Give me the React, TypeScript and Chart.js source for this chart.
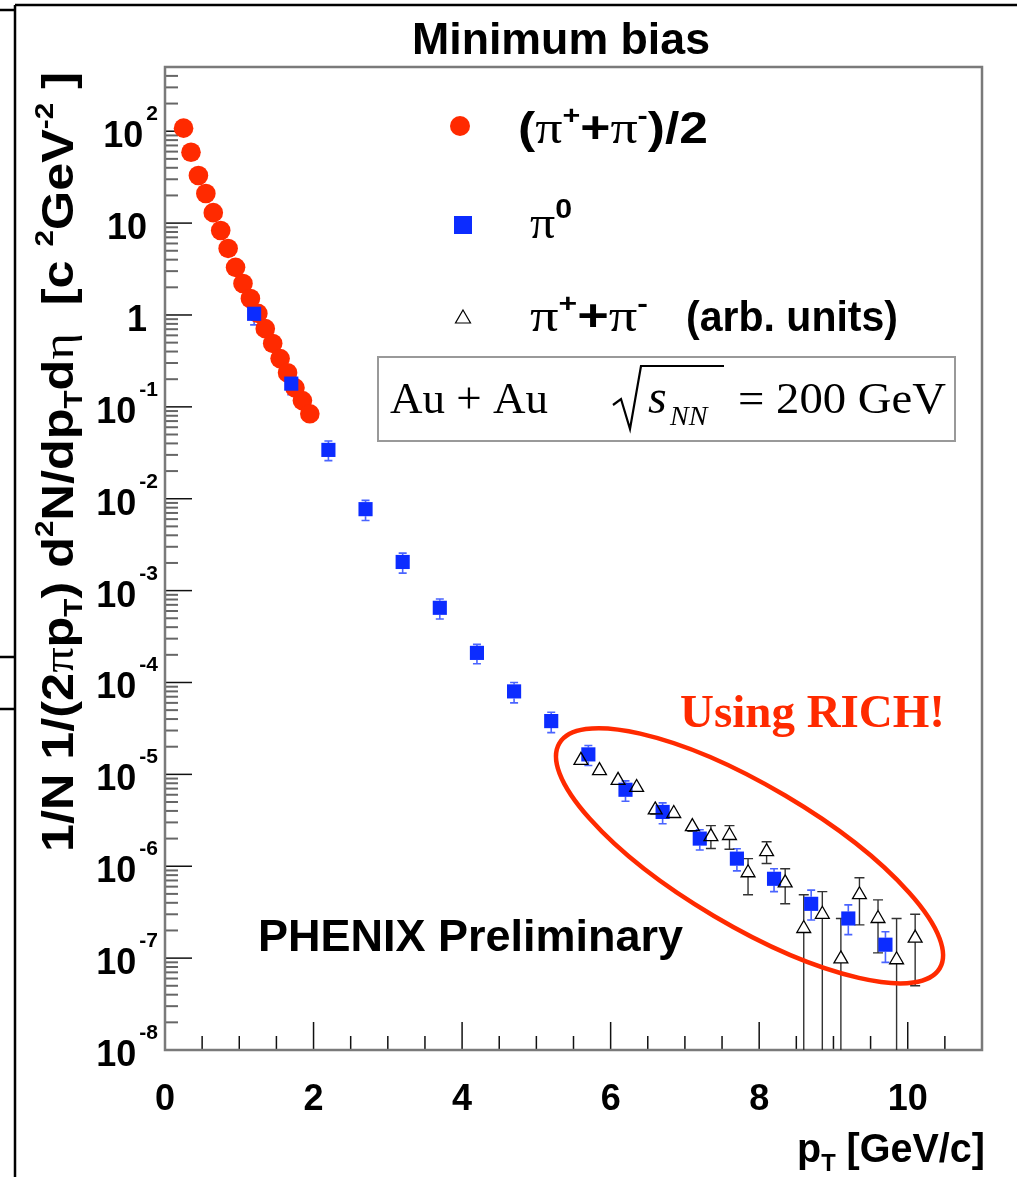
import React, { useEffect, useRef } from 'react';
import { Chart, registerables } from 'chart.js';

Chart.register(...registerables);

const WIDTH = 1017;
const HEIGHT = 1177;

// ---- data: (pi+ + pi-)/2, red circles
const chargedPt = [0.25, 0.35, 0.45, 0.55, 0.65, 0.75, 0.85, 0.95, 1.05, 1.15, 1.25, 1.35, 1.45, 1.55, 1.65, 1.75, 1.85, 1.95];
const chargedYield = [108, 59, 33, 21, 13, 8.3, 5.3, 3.3, 2.2, 1.51, 1.04, 0.71, 0.49, 0.335, 0.235, 0.161, 0.117, 0.084];

// ---- data: pi0, blue squares
const pi0Pt = [1.2, 1.7, 2.2, 2.7, 3.2, 3.7, 4.2, 4.7, 5.2, 5.7, 6.2, 6.7, 7.2, 7.7, 8.2, 8.7, 9.2, 9.7];
const pi0Yield = [1.03, 0.179, 0.034, 0.0077, 0.00205, 6.5e-4, 2.1e-4, 8.0e-5, 3.8e-5, 1.65e-5, 6.8e-6, 3.9e-6, 2.0e-6, 1.21e-6, 7.3e-7, 3.9e-7, 2.7e-7, 1.4e-7];
const pi0Low = [0.78, 0.136, 0.026, 0.0058, 0.00155, 4.9e-4, 1.6e-4, 6.0e-5, 2.85e-5, 1.25e-5, 5.1e-6, 2.9e-6, 1.5e-6, 8.9e-7, 5.3e-7, 2.6e-7, 1.8e-7, 9.0e-8];
const pi0High = [1.29, 0.224, 0.0425, 0.0096, 0.00256, 8.1e-4, 2.6e-4, 1.0e-4, 4.75e-5, 2.06e-5, 8.5e-6, 4.9e-6, 2.5e-6, 1.55e-6, 9.4e-7, 5.5e-7, 3.8e-7, 1.94e-7];

// ---- data: pi+ + pi- (arb. units) using RICH, open triangles
const richPt = [5.6, 5.85, 6.1, 6.35, 6.6, 6.85, 7.1, 7.35, 7.6, 7.85, 8.1, 8.35, 8.6, 8.85, 9.1, 9.35, 9.6, 9.85, 10.1];
const richYield = [1.42e-5, 1.10e-5, 8.6e-6, 7.2e-6, 4.1e-6, 3.75e-6, 2.7e-6, 2.1e-6, 2.16e-6, 8.5e-7, 1.44e-6, 6.6e-7, 2.1e-7, 3.0e-7, 9.8e-8, 4.9e-7, 2.7e-7, 9.6e-8, 1.65e-7];
const richLow = [1.30e-5, 1.0e-5, 7.9e-6, 6.6e-6, 3.7e-6, 3.4e-6, 2.4e-6, 1.56e-6, 1.53e-6, 4.9e-7, 1.07e-6, 3.9e-7, 1e-10, 1e-10, 1e-10, 2.3e-7, 1.14e-7, 1e-10, 5.0e-8];
const richHigh = [1.55e-5, 1.2e-5, 9.4e-6, 7.9e-6, 4.5e-6, 4.1e-6, 3.0e-6, 2.77e-6, 2.77e-6, 1.21e-6, 1.85e-6, 9.4e-7, 4.9e-7, 5.3e-7, 2.7e-7, 7.5e-7, 4.3e-7, 2.7e-7, 3.0e-7];

// ---- axes
const xTickValues = [0, 2, 4, 6, 8, 10];
const xTickLabels = ['0', '2', '4', '6', '8', '10'];
const xMinorStep = 0.5;
const yTickExponents = [-8, -7, -6, -5, -4, -3, -2, -1, 0, 1, 2];
const yTickBase = ['10', '10', '10', '10', '10', '10', '10', '10', '1', '10', '10'];
const yTickSup = ['-8', '-7', '-6', '-5', '-4', '-3', '-2', '-1', '', '', '2'];
const yMinorMantissas = [2, 3, 4, 5, 6, 7, 8, 9];
const X_MIN = 0, X_MAX = 11, Y_MIN = 1e-8, Y_MAX = 500;

// ellipse annotation centre (data coordinates)
const ellipseCenter = { x: 7.87, y: 1.3e-6 };

const RED = '#ff2a00';
const BLUE = '#0c2cff';
const SANS = '"Liberation Sans", Arial, Helvetica, sans-serif';
const SERIF = '"Liberation Serif", "Times New Roman", serif';

type Seg = { t: string; size: number; bold?: boolean; serif?: boolean; italic?: boolean; dy?: number };

function segFont(s: Seg) {
  return `${s.italic ? 'italic ' : ''}${s.bold ? 'bold ' : ''}${s.size}px ${s.serif ? SERIF : SANS}`;
}

function drawRich(ctx: CanvasRenderingContext2D, segs: Seg[], x: number, y: number, align: 'left' | 'right' | 'center', targetW: number | null, color: string) {
  let w = 0;
  const ws = segs.map((s) => {
    ctx.font = segFont(s);
    const m = ctx.measureText(s.t).width;
    w += m;
    return m;
  });
  const sx = targetW ? targetW / w : 1;
  const total = w * sx;
  const x0 = align === 'left' ? x : align === 'right' ? x - total : x - total / 2;
  ctx.save();
  ctx.translate(x0, y);
  ctx.scale(sx, 1);
  ctx.fillStyle = color;
  ctx.textAlign = 'left';
  ctx.textBaseline = 'alphabetic';
  let cx = 0;
  segs.forEach((s, i) => {
    ctx.font = segFont(s);
    ctx.fillText(s.t, cx, s.dy || 0);
    cx += ws[i];
  });
  ctx.restore();
}

function drawErrors(ctx: CanvasRenderingContext2D, xs: any, ys: any, pts: number[], vals: number[], lo: number[], hi: number[], halfUp: number, halfDown: number, cap: number, color: string, width: number) {
  ctx.strokeStyle = color;
  ctx.lineWidth = width;
  for (let i = 0; i < pts.length; i++) {
    const px = xs.getPixelForValue(pts[i]);
    const py = ys.getPixelForValue(vals[i]);
    const pl = Math.min(ys.getPixelForValue(lo[i]), 5000);
    const ph = ys.getPixelForValue(hi[i]);
    ctx.beginPath();
    if (ph < py - halfUp) {
      ctx.moveTo(px, py - halfUp); ctx.lineTo(px, ph);
      ctx.moveTo(px - cap, ph); ctx.lineTo(px + cap, ph);
    }
    if (pl > py + halfDown) {
      ctx.moveTo(px, py + halfDown); ctx.lineTo(px, pl);
      ctx.moveTo(px - cap, pl); ctx.lineTo(px + cap, pl);
    }
    ctx.stroke();
  }
}

const decorPlugin = {
  id: 'phenixDecor',
  beforeDatasetsDraw(chart: any) {
    const { ctx, chartArea: ca } = chart;
    const xs = chart.scales.x, ys = chart.scales.y;
    ctx.save();
    // y ticks (inside the frame)
    yTickExponents.forEach((e) => {
      const py = ys.getPixelForValue(Math.pow(10, e));
      ctx.strokeStyle = '#111'; ctx.lineWidth = 1.5;
      ctx.beginPath(); ctx.moveTo(ca.left, py); ctx.lineTo(ca.left + 27, py); ctx.stroke();
      yMinorMantissas.forEach((m) => {
        const v = m * Math.pow(10, e);
        if (v > Y_MAX) return;
        const pm = ys.getPixelForValue(v);
        ctx.strokeStyle = '#666'; ctx.lineWidth = 2;
        ctx.beginPath(); ctx.moveTo(ca.left, pm); ctx.lineTo(ca.left + 13, pm); ctx.stroke();
      });
    });
    // x ticks
    for (let v = 0; v < X_MAX; v += xMinorStep) {
      const px = xs.getPixelForValue(v);
      const major = xTickValues.indexOf(v) >= 0;
      ctx.strokeStyle = '#111'; ctx.lineWidth = 1.5;
      ctx.beginPath(); ctx.moveTo(px, ca.bottom); ctx.lineTo(px, ca.bottom - (major ? 28 : 14)); ctx.stroke();
    }
    // frame
    ctx.strokeStyle = '#7a7a7a'; ctx.lineWidth = 2.5;
    ctx.strokeRect(ca.left, ca.top, ca.right - ca.left, ca.bottom - ca.top);
    // error bars
    ctx.beginPath(); ctx.rect(ca.left, ca.top, ca.right - ca.left, ca.bottom - ca.top); ctx.clip();
    drawErrors(ctx, xs, ys, pi0Pt, pi0Yield, pi0Low, pi0High, 7, 7, 4, '#4a64ff', 1.6);
    drawErrors(ctx, xs, ys, richPt, richYield, richLow, richHigh, 8, 4, 5, '#333', 1.4);
    ctx.restore();
  },
  afterDatasetsDraw(chart: any) {
    const { ctx } = chart;
    const xs = chart.scales.x, ys = chart.scales.y;
    ctx.save();
    ctx.strokeStyle = RED; ctx.lineWidth = 4.5;
    ctx.beginPath();
    ctx.ellipse(xs.getPixelForValue(ellipseCenter.x), ys.getPixelForValue(ellipseCenter.y), 221, 70, 0.534, 0, Math.PI * 2);
    ctx.stroke();
    ctx.restore();
  },
  afterDraw(chart: any) {
    const { ctx } = chart;
    const xs = chart.scales.x, ys = chart.scales.y;
    ctx.save();
    // slide frame lines
    ctx.strokeStyle = '#000'; ctx.lineWidth = 2.5;
    ctx.beginPath();
    ctx.moveTo(15, 5); ctx.lineTo(WIDTH, 5);
    ctx.moveTo(15, 5); ctx.lineTo(15, HEIGHT);
    ctx.moveTo(0, 10); ctx.lineTo(15, 10);
    ctx.moveTo(0, 657); ctx.lineTo(15, 657);
    ctx.moveTo(0, 709); ctx.lineTo(15, 709);
    ctx.stroke();

    // y tick labels
    yTickExponents.forEach((e, i) => {
      const py = ys.getPixelForValue(Math.pow(10, e));
      const sup = yTickSup[i];
      if (sup) {
        ctx.font = `bold 21px ${SANS}`;
        const sw = ctx.measureText(sup).width;
        drawRich(ctx, [{ t: sup, size: 21, bold: true }], 158, py - 11, 'right', null, '#000');
        drawRich(ctx, [{ t: yTickBase[i], size: 36, bold: true }], 158 - sw - 3, py + 16, 'right', null, '#000');
      } else {
        drawRich(ctx, [{ t: yTickBase[i], size: 36, bold: true }], 147, py + 16, 'right', null, '#000');
      }
    });
    // x tick labels
    xTickValues.forEach((v, i) => {
      drawRich(ctx, [{ t: xTickLabels[i], size: 36, bold: true }], xs.getPixelForValue(v), 1110, 'center', null, '#000');
    });

    // title
    drawRich(ctx, [{ t: 'Minimum bias', size: 44, bold: true }], 412, 54, 'left', 298, '#000');

    // x title
    drawRich(ctx, [
      { t: 'p', size: 40, bold: true },
      { t: 'T', size: 24, bold: true, dy: 9 },
      { t: ' [GeV/c]', size: 40, bold: true },
    ], 985, 1162, 'right', 188, '#000');

    // y title (rotated)
    ctx.save();
    ctx.translate(73, 462);
    ctx.rotate(-Math.PI / 2);
    drawRich(ctx, [
      { t: '1/N 1/(2', size: 44, bold: true },
      { t: 'π', size: 44, serif: true },
      { t: 'p', size: 44, bold: true },
      { t: 'T', size: 26, bold: true, dy: 9 },
      { t: ') d', size: 44, bold: true },
      { t: '2', size: 26, bold: true, dy: -20 },
      { t: 'N/dp', size: 44, bold: true },
      { t: 'T', size: 26, bold: true, dy: 9 },
      { t: 'd', size: 44, bold: true },
      { t: 'η', size: 44, serif: true },
      { t: '  [c ', size: 44, bold: true },
      { t: '2', size: 26, bold: true, dy: -20 },
      { t: 'GeV', size: 44, bold: true },
      { t: '-2', size: 26, bold: true, dy: -20 },
      { t: ' ]', size: 44, bold: true },
    ], 0, 0, 'center', 780, '#000');
    ctx.restore();

    // legend markers
    ctx.fillStyle = RED;
    ctx.beginPath(); ctx.arc(460, 126, 10, 0, Math.PI * 2); ctx.fill();
    ctx.fillStyle = BLUE;
    ctx.fillRect(454, 216, 18, 18);
    ctx.strokeStyle = '#000'; ctx.lineWidth = 1.2;
    ctx.beginPath(); ctx.moveTo(463, 310); ctx.lineTo(470.5, 323); ctx.lineTo(455.5, 323); ctx.closePath(); ctx.stroke();

    // legend texts
    drawRich(ctx, [
      { t: '(', size: 44, bold: true },
      { t: 'π', size: 46, serif: true },
      { t: '+', size: 26, bold: true, dy: -19 },
      { t: '+', size: 44, bold: true },
      { t: 'π', size: 46, serif: true },
      { t: '-', size: 26, bold: true, dy: -19 },
      { t: ')/2', size: 44, bold: true },
    ], 518, 143, 'left', 190, '#000');
    drawRich(ctx, [
      { t: 'π', size: 46, serif: true },
      { t: '0', size: 28, bold: true, dy: -20 },
    ], 530, 238, 'left', 42, '#000');
    drawRich(ctx, [
      { t: 'π', size: 46, serif: true },
      { t: '+', size: 26, bold: true, dy: -19 },
      { t: '+', size: 44, bold: true },
      { t: 'π', size: 46, serif: true },
      { t: '-', size: 26, bold: true, dy: -19 },
    ], 530, 331, 'left', 118, '#000');
    drawRich(ctx, [{ t: '(arb. units)', size: 42, bold: true }], 686, 331, 'left', 212, '#000');

    // Au + Au box
    ctx.fillStyle = '#fff';
    ctx.fillRect(378, 357, 577, 84);
    ctx.strokeStyle = '#999'; ctx.lineWidth = 2;
    ctx.strokeRect(378, 357, 577, 84);
    drawRich(ctx, [{ t: 'Au + Au', size: 44, serif: true }], 390, 413, 'left', 158, '#000');
    ctx.strokeStyle = '#000'; ctx.lineWidth = 2.2;
    ctx.beginPath();
    ctx.moveTo(613, 405); ctx.lineTo(621, 399); ctx.lineTo(630, 429); ctx.lineTo(641, 366); ctx.lineTo(724, 366);
    ctx.stroke();
    drawRich(ctx, [{ t: 's', size: 48, serif: true, italic: true }], 648, 413, 'left', null, '#000');
    drawRich(ctx, [{ t: 'NN', size: 28, serif: true, italic: true }], 670, 425, 'left', null, '#000');
    drawRich(ctx, [{ t: '= 200 GeV', size: 44, serif: true }], 738, 413, 'left', 208, '#000');

    // annotations
    drawRich(ctx, [{ t: 'Using RICH!', size: 47, serif: true, bold: true }], 680, 727, 'left', 265, RED);
    drawRich(ctx, [{ t: 'PHENIX Preliminary', size: 45, bold: true }], 258, 951, 'left', 425, '#000');
    ctx.restore();
  },
};

export default function App() {
  const ref = useRef<HTMLCanvasElement>(null);
  useEffect(() => {
    const canvas = ref.current;
    if (!canvas) return;
    const toXY = (xs: number[], ys: number[]) => xs.map((x, i) => ({ x, y: ys[i] }));
    const chart = new Chart(canvas, {
      type: 'scatter',
      data: {
        datasets: [
          {
            label: 'π+ + π- (arb. units)',
            data: toXY(richPt, richYield),
            pointStyle: 'triangle',
            pointRadius: 8,
            borderColor: '#000',
            borderWidth: 1.3,
            backgroundColor: 'rgba(255,255,255,0)',
          },
          {
            label: 'π0',
            data: toXY(pi0Pt, pi0Yield),
            pointStyle: 'rect',
            pointRadius: 10,
            borderWidth: 0,
            backgroundColor: BLUE,
          },
          {
            label: '(π+ + π-)/2',
            data: toXY(chargedPt, chargedYield),
            pointStyle: 'circle',
            pointRadius: 9.8,
            borderWidth: 0,
            backgroundColor: RED,
          },
        ],
      },
      options: {
        responsive: false,
        animation: false,
        devicePixelRatio: 1,
        events: [],
        layout: { padding: { top: 67, right: 35, left: 0, bottom: 0 } },
        plugins: {
          legend: { display: false },
          tooltip: { enabled: false },
          title: { display: false },
        },
        scales: {
          x: {
            type: 'linear',
            min: X_MIN,
            max: X_MAX,
            grid: { display: false },
            border: { display: false },
            ticks: { display: false },
            afterFit: (s: any) => { s.height = 127; },
          },
          y: {
            type: 'logarithmic',
            min: Y_MIN,
            max: Y_MAX,
            grid: { display: false },
            border: { display: false },
            ticks: { display: false },
            afterFit: (s: any) => { s.width = 165; },
          },
        },
      },
      plugins: [decorPlugin],
    } as any);
    return () => chart.destroy();
  }, []);
  return (
    <div style={{ position: 'absolute', left: 0, top: 0, width: WIDTH, height: HEIGHT, background: '#fff' }}>
      <canvas ref={ref} width={WIDTH} height={HEIGHT} style={{ display: 'block', width: WIDTH, height: HEIGHT }} />
    </div>
  );
}
